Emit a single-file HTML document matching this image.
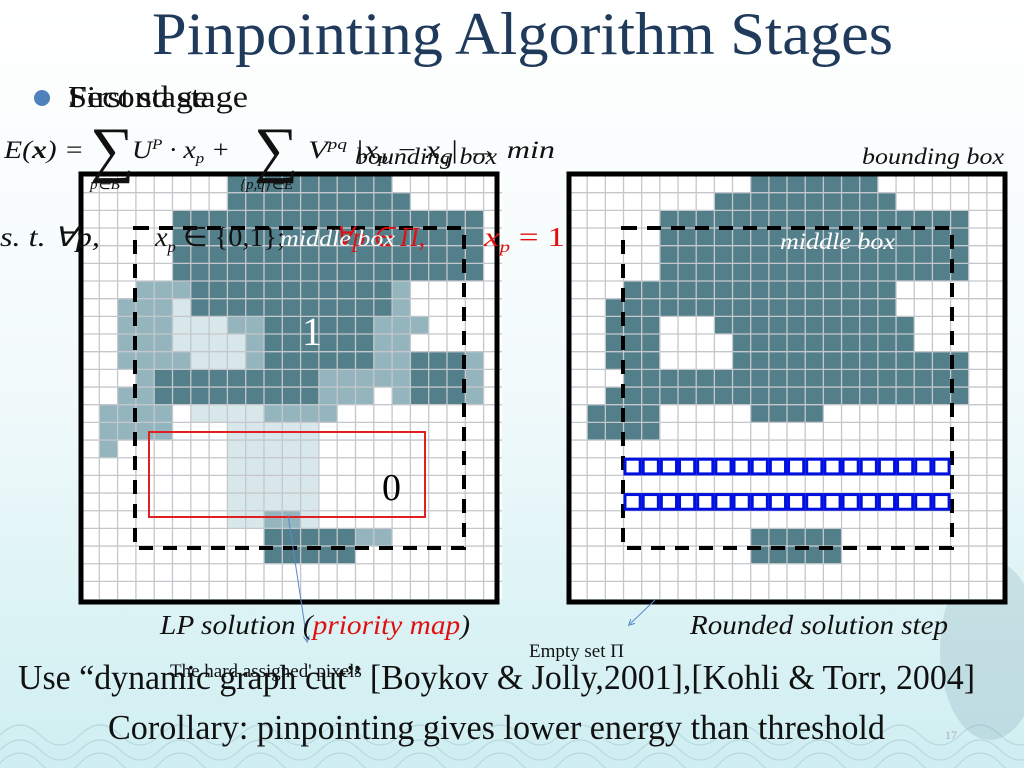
<!DOCTYPE html>
<html><head><meta charset="utf-8"><style>
html,body{margin:0;padding:0;width:1024px;height:768px;overflow:hidden}
svg{display:block}
text{font-family:"Liberation Serif",serif}
</style></head><body>
<svg id="s" width="1024" height="768" viewBox="0 0 1024 768">
<defs>
<linearGradient id="bg" x1="0" y1="0" x2="0" y2="1">
<stop offset="0" stop-color="#ffffff"/><stop offset="0.5" stop-color="#f2fafb"/><stop offset="0.8" stop-color="#dcf3f5"/><stop offset="1" stop-color="#cfeef1"/>
</linearGradient>
<marker id="ah" markerWidth="8" markerHeight="8" refX="4" refY="4" orient="auto"><path d="M0,1 L6,4 L0,7" fill="none" stroke="#5a88c8" stroke-width="1"/></marker>
</defs>
<rect width="1024" height="768" fill="url(#bg)"/>
<g opacity="0.4" fill="none" stroke="#8fb8c4" stroke-width="1.2">
<path d="M0,735 q20,-20 40,0 t40,0 t40,0 t40,0 t40,0 t40,0 t40,0 t40,0 t40,0 t40,0 t40,0 t40,0 t40,0 t40,0 t40,0 t40,0 t40,0 t40,0 t40,0 t40,0 t40,0 t40,0 t40,0 t40,0 t40,0 t40,0"/>
<path d="M0,750 q20,-20 40,0 t40,0 t40,0 t40,0 t40,0 t40,0 t40,0 t40,0 t40,0 t40,0 t40,0 t40,0 t40,0 t40,0 t40,0 t40,0 t40,0 t40,0 t40,0 t40,0 t40,0 t40,0 t40,0 t40,0 t40,0 t40,0"/>
<path d="M0,763 q20,-20 40,0 t40,0 t40,0 t40,0 t40,0 t40,0 t40,0 t40,0 t40,0 t40,0 t40,0 t40,0 t40,0 t40,0 t40,0 t40,0 t40,0 t40,0 t40,0 t40,0 t40,0 t40,0 t40,0 t40,0 t40,0 t40,0"/>
</g>
<ellipse cx="990" cy="650" rx="50" ry="90" fill="#7fa3b0" opacity="0.25"/>

<text x="152" y="54" font-size="60" fill="#1f3a5a" textLength="741" lengthAdjust="spacingAndGlyphs">Pinpointing Algorithm Stages</text>
<circle cx="42" cy="98" r="8" fill="#4f81bd"/>
<text x="68" y="107" font-size="31" fill="#111" textLength="140" lengthAdjust="spacingAndGlyphs">First stage</text>
<text x="68" y="107" font-size="31" fill="#111" textLength="180" lengthAdjust="spacingAndGlyphs">Second stage</text>

<g id="left"></g>
<g id="right"></g>

<g font-style="italic" font-size="25" fill="#111">
<text x="4" y="158" textLength="80" lengthAdjust="spacingAndGlyphs">E(<tspan font-weight="bold">x</tspan>) =</text>
<text x="90" y="170" font-size="62" font-style="normal">∑</text>
<text x="132" y="158" textLength="98" lengthAdjust="spacingAndGlyphs">U<tspan font-size="15" dy="-9">P</tspan><tspan dy="9"> · x</tspan><tspan font-size="15" dy="5">p</tspan><tspan dy="-5"> +</tspan></text>
<text x="254" y="170" font-size="62" font-style="normal">∑</text>
<text x="308" y="158" textLength="247" lengthAdjust="spacingAndGlyphs">V<tspan font-size="15" dy="-9">pq</tspan><tspan dy="9"> |x</tspan><tspan font-size="15" dy="5">p</tspan><tspan dy="-5"> − x</tspan><tspan font-size="15" dy="5">q</tspan><tspan dy="-5">| → min</tspan></text>
<text x="90" y="189" font-size="15">p∈B</text>
<text x="240" y="189" font-size="15">{p,q}∈E</text>
</g>
<text x="355" y="164" font-size="23" font-style="italic" fill="#111" textLength="142" lengthAdjust="spacingAndGlyphs">bounding box</text>
<text x="862" y="164" font-size="23" font-style="italic" fill="#111" textLength="142" lengthAdjust="spacingAndGlyphs">bounding box</text>
<g font-size="27" font-style="italic">
<text x="0" y="246" fill="#111" textLength="100" lengthAdjust="spacingAndGlyphs">s. t.  ∀p,</text>
<text x="155" y="246" fill="#111" textLength="130" lengthAdjust="spacingAndGlyphs">x<tspan font-size="16" dy="6">p</tspan><tspan dy="-6" font-style="normal"> ∈ {0,1};</tspan></text>
<text x="335" y="246" fill="#e01010" textLength="90" lengthAdjust="spacingAndGlyphs">∀p ∈ Π,</text>
<text x="484" y="246" fill="#e01010" textLength="81" lengthAdjust="spacingAndGlyphs">x<tspan font-size="16" dy="6">p</tspan><tspan dy="-6" font-style="normal"> = 1</tspan></text>
</g>
<text x="280" y="246" font-size="23" font-style="italic" fill="#fff" textLength="115" lengthAdjust="spacingAndGlyphs">middle box</text>
<text x="780" y="249" font-size="23" font-style="italic" fill="#fff" textLength="115" lengthAdjust="spacingAndGlyphs">middle box</text>
<text x="302" y="345" font-size="40" fill="#fff">1</text>
<text x="382" y="500" font-size="38" fill="#000">0</text>

<line x1="288" y1="515" x2="307" y2="640" stroke="#5a88c8" stroke-width="1" marker-end="url(#ah)"/>
<line x1="655" y1="600" x2="630" y2="624" stroke="#5a88c8" stroke-width="1" marker-end="url(#ah)"/>

<text x="160" y="634" font-size="27" font-style="italic" fill="#111" textLength="310" lengthAdjust="spacingAndGlyphs">LP solution (<tspan fill="#e01010">priority map</tspan>)</text>
<text x="690" y="634" font-size="27" font-style="italic" fill="#111" textLength="258" lengthAdjust="spacingAndGlyphs">Rounded solution step</text>
<text x="529" y="657" font-size="19" fill="#111">Empty set Π</text>
<text x="170" y="677" font-size="19" fill="#111">The hard assigned' pixels</text>
<text x="18" y="689" font-size="35" fill="#111" textLength="957" lengthAdjust="spacingAndGlyphs">Use “dynamic graph cut” [Boykov &amp; Jolly,2001],[Kohli &amp; Torr, 2004]</text>
<text x="108" y="739" font-size="35" fill="#111" textLength="777" lengthAdjust="spacingAndGlyphs">Corollary: pinpointing gives lower energy than threshold</text>
<text x="945" y="739" font-size="12" fill="#aab">17</text>
</svg>
<script>
// Left grid cell runs: [row, startCol, endCol, shade]
const leftRuns = [
[0,8,16,'d'],[1,8,17,'d'],[2,5,21,'d'],[3,5,21,'d'],[4,5,21,'d'],[5,5,21,'d'],
[6,3,5,'m'],[6,6,16,'d'],[6,17,17,'m'],
[7,2,4,'m'],[7,5,5,'p'],[7,6,16,'d'],[7,17,17,'m'],
[8,2,4,'m'],[8,5,7,'p'],[8,8,9,'m'],[8,10,15,'d'],[8,16,18,'m'],
[9,2,4,'m'],[9,5,8,'p'],[9,9,9,'m'],[9,10,15,'d'],[9,16,17,'m'],
[10,2,5,'m'],[10,6,8,'p'],[10,9,9,'m'],[10,10,15,'d'],[10,16,17,'m'],[10,18,20,'d'],[10,21,21,'m'],
[11,3,3,'m'],[11,4,12,'d'],[11,13,17,'m'],[11,18,20,'d'],[11,21,21,'m'],
[12,2,3,'m'],[12,4,12,'d'],[12,13,15,'m'],[12,17,17,'m'],[12,18,20,'d'],[12,21,21,'m'],
[13,1,4,'m'],[13,6,9,'p'],[13,10,13,'m'],
[14,1,4,'m'],[14,8,12,'p'],[15,1,1,'m'],[15,8,12,'p'],
[16,8,12,'p'],[17,8,12,'p'],[18,8,12,'p'],
[19,8,9,'p'],[19,10,11,'m'],[19,12,12,'p'],
[20,10,14,'d'],[20,15,16,'m'],[21,10,14,'d']
];
const rightRuns = [
[0,10,16,'d'],[1,8,17,'d'],[2,5,21,'d'],[3,5,21,'d'],[4,5,21,'d'],[5,5,21,'d'],
[6,3,17,'d'],[7,2,17,'d'],[8,2,4,'d'],[8,8,18,'d'],[9,2,4,'d'],[9,9,18,'d'],
[10,2,4,'d'],[10,9,21,'d'],[11,3,21,'d'],[12,2,21,'d'],[13,1,4,'d'],[13,10,13,'d'],
[14,1,4,'d'],[20,10,14,'d'],[21,10,14,'d']
];
const blueRows = [16,18];
const blueCols = [3,20];
const shades = {d:'#537f8b', m:'#94b5be', p:'#d8e7ea'};
const NS = 'http://www.w3.org/2000/svg';
function mk(tag, attrs, parent){const e=document.createElementNS(NS,tag);for(const k in attrs)e.setAttribute(k,attrs[k]);parent.appendChild(e);return e;}

function drawGrid(g, x0, y0, cw, ch, cols, rows, runs, box, dash, name){
  mk('rect',{x:x0,y:y0,width:cols*cw,height:rows*ch,fill:'#fff'},g);
  runs.forEach(r=>{
    for(let c=r[1];c<=r[2];c++){
      const e=mk('rect',{x:x0+c*cw,y:y0+r[0]*ch,width:cw,height:ch,fill:shades[r[3]]},g);
      
      
    }
  });
  for(let c=1;c<cols;c++) mk('line',{x1:x0+c*cw,y1:y0,x2:x0+c*cw,y2:y0+rows*ch,stroke:'#c4c8cc','stroke-width':1.3},g);
  for(let r=1;r<rows;r++) mk('line',{x1:x0,y1:y0+r*ch,x2:x0+cols*cw,y2:y0+r*ch,stroke:'#c4c8cc','stroke-width':1.3},g);
  const d=mk('rect',{x:dash[0],y:dash[1],width:dash[2],height:dash[3],fill:'none',stroke:'#000','stroke-width':4,'stroke-dasharray':'14,10'},g);
  
  
  const b=mk('rect',{x:box[0],y:box[1],width:box[2],height:box[3],fill:'none',stroke:'#000','stroke-width':5},g);
  
  
}
const L=document.getElementById('left');
drawGrid(L,81,175,18.3,17.67,23,24,leftRuns,[81,174,416,428],[135,228,329,320],'left-grid');
const red=mk('rect',{x:149,y:432,width:276,height:85,fill:'none',stroke:'#e02020','stroke-width':2},L);



const R=document.getElementById('right');
drawGrid(R,569,175,18.17,17.67,24,24,rightRuns,[569,174,436,428],[623,228,329,320],'right-grid');
blueRows.forEach(r=>{
  for(let c=blueCols[0];c<=blueCols[1];c++){
    const e=mk('rect',{x:569+c*18.17+1.5,y:175+r*17.67+1.5,width:18.17-3,height:17.67-3,fill:'none',stroke:'#0010e0','stroke-width':3},R);
    
    
  }
});
</script>
</body></html>
